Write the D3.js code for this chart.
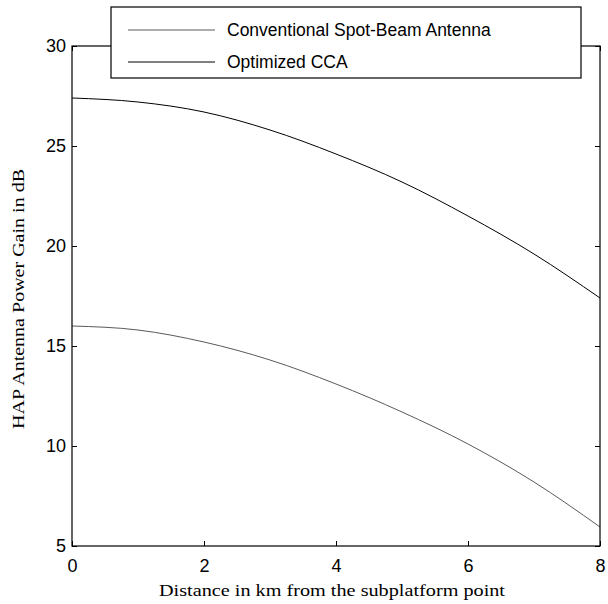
<!DOCTYPE html>
<html>
<head>
<meta charset="utf-8">
<script src="https://cdn.jsdelivr.net/npm/d3@7"></script>
<style>
  body { margin: 0; background: #fff; }
  svg { display: block; }
</style>
</head>
<body>
<svg id="gain-chart" width="608" height="604"></svg>
<script>
// values (km, dB)
const distances = [0, 1, 2, 3, 4, 5, 6, 7, 8];
const conventionalGain = [16.0, 15.8, 15.2, 14.3, 13.1, 11.7, 10.1, 8.2, 5.95];
const optimizedGain = [27.4, 27.2, 26.7, 25.8, 24.6, 23.2, 21.5, 19.6, 17.4];
const seriesNames = ["Conventional Spot-Beam Antenna", "Optimized CCA"];
const xTicks = [0, 2, 4, 6, 8];
const yTicks = [5, 10, 15, 20, 25, 30];

const svg = d3.select("#gain-chart"),
    margin = { top: 46, right: 8, bottom: 58, left: 72 },
    width = +svg.attr("width") - margin.left - margin.right,
    height = +svg.attr("height") - margin.top - margin.bottom;

const chart = svg.append("g")
    .attr("transform", `translate(${margin.left},${margin.top})`);

const x = d3.scaleLinear().domain([0, 8]).range([0, width]);
const y = d3.scaleLinear().domain([5, 30]).range([height, 0]);

const color = d3.scaleOrdinal().domain(seriesNames).range(["#5a5a5a", "#000"]);

const series = [
    { name: seriesNames[0], values: distances.map((d, i) => ({ x: d, y: conventionalGain[i] })) },
    { name: seriesNames[1], values: distances.map((d, i) => ({ x: d, y: optimizedGain[i] })) }
];

const line = d3.line()
    .x(d => x(d.x))
    .y(d => y(d.y))
    .curve(d3.curveMonotoneX);

chart.selectAll(".series")
    .data(series)
    .join("path")
    .attr("class", "series")
    .attr("fill", "none")
    .attr("stroke", d => color(d.name))
    .attr("stroke-width", 1)
    .attr("d", d => line(d.values));

// axes, ticks point inwards
const tickFont = "'Liberation Sans', Arial, sans-serif";
const titleFont = "'Liberation Serif', 'Times New Roman', serif";

const xAxis = chart.append("g")
    .attr("transform", `translate(0,${height})`)
    .call(d3.axisBottom(x).tickValues(xTicks).tickSizeInner(-5).tickSizeOuter(0).tickPadding(13));
xAxis.select(".domain").remove();

const yAxis = chart.append("g")
    .call(d3.axisLeft(y).tickValues(yTicks).tickSizeInner(-5).tickSizeOuter(0).tickPadding(6));
yAxis.select(".domain").remove();

chart.append("g")
    .call(d3.axisTop(x).tickValues(xTicks).tickSizeInner(-5).tickSizeOuter(0).tickFormat(""))
    .select(".domain").remove();

chart.append("g")
    .attr("transform", `translate(${width},0)`)
    .call(d3.axisRight(y).tickValues(yTicks).tickSizeInner(-5).tickSizeOuter(0).tickFormat(""))
    .select(".domain").remove();

chart.selectAll(".tick line").attr("stroke", "#000");
chart.selectAll(".tick text")
    .style("font-family", tickFont)
    .style("font-size", "18px")
    .style("fill", "#000");

chart.append("rect")
    .attr("width", width)
    .attr("height", height)
    .attr("fill", "none")
    .attr("stroke", "#000")
    .attr("stroke-width", 1.2);

// axis titles (the figure is a bit stretched, so fit the measured length)
svg.append("text")
    .attr("x", margin.left + width / 2 - 4)
    .attr("y", 596)
    .attr("text-anchor", "middle")
    .attr("textLength", 346)
    .attr("lengthAdjust", "spacingAndGlyphs")
    .style("font-family", titleFont)
    .style("font-size", "17px")
    .text("Distance in km from the subplatform point");

svg.append("text")
    .attr("transform", `translate(24,${margin.top + height / 2 + 3}) rotate(-90)`)
    .attr("text-anchor", "middle")
    .attr("textLength", 260)
    .attr("lengthAdjust", "spacingAndGlyphs")
    .style("font-family", titleFont)
    .style("font-size", "17px")
    .text("HAP Antenna Power Gain in dB");

// legend
const legend = svg.append("g").attr("transform", "translate(111,7)");

legend.append("rect")
    .attr("width", 470)
    .attr("height", 71)
    .attr("fill", "#fff")
    .attr("stroke", "#000")
    .attr("stroke-width", 1.2);

seriesNames.forEach((name, i) => {
    const g = legend.append("g").attr("transform", `translate(0,${23 + i * 32})`);
    g.append("line")
        .attr("x1", 17)
        .attr("x2", 104)
        .attr("stroke", color(name))
        .attr("stroke-width", 1);
    g.append("text")
        .attr("x", 116)
        .attr("dy", "0.35em")
        .style("font-family", tickFont)
        .style("font-size", "17.5px")
        .text(name);
});
</script>
</body>
</html>
